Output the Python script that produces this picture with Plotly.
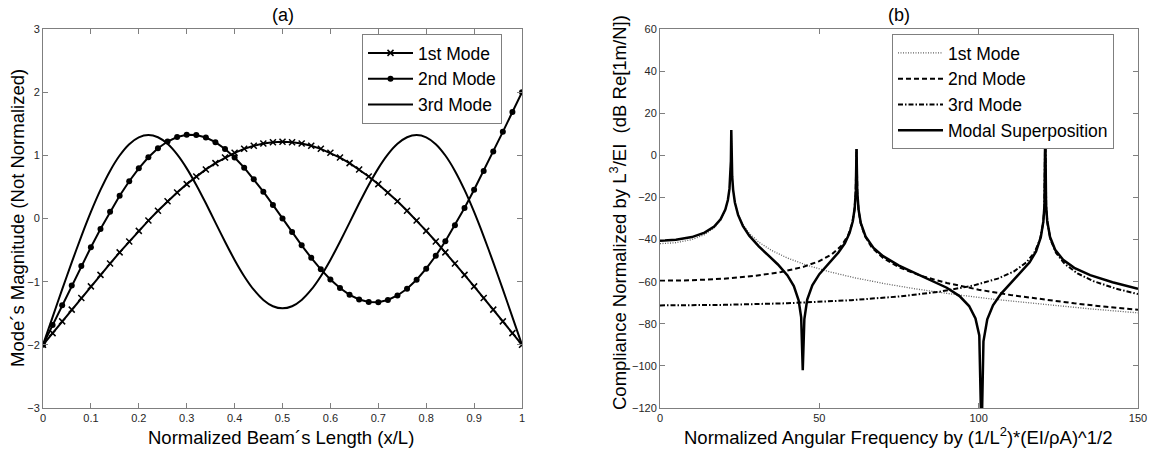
import plotly.graph_objects as go

# ---------------- (a) mode shapes ----------------
x_pos = [0.00, 0.02, 0.04, 0.06, 0.08, 0.10, 0.12, 0.14, 0.16, 0.18, 0.20, 0.22, 0.24, 0.26, 0.28,
         0.30, 0.32, 0.34, 0.36, 0.38, 0.40, 0.42, 0.44, 0.46, 0.48, 0.50, 0.52, 0.54, 0.56, 0.58,
         0.60, 0.62, 0.64, 0.66, 0.68, 0.70, 0.72, 0.74, 0.76, 0.78, 0.80, 0.82, 0.84, 0.86, 0.88,
         0.90, 0.92, 0.94, 0.96, 0.98, 1.00]

mode1_shape = [-2.0, -1.8142, -1.6284, -1.4429, -1.2580, -1.0744, -0.8924, -0.7127, -0.5362, -0.3635,
               -0.1955, -0.0330, 0.1231, 0.2718, 0.4124, 0.5440, 0.6658, 0.7771, 0.8770, 0.9650,
               1.0405, 1.1030, 1.1521, 1.1873, 1.2086, 1.2157, 1.2086, 1.1873, 1.1521, 1.1030,
               1.0405, 0.9650, 0.8770, 0.7771, 0.6658, 0.5440, 0.4124, 0.2718, 0.1231, -0.0330,
               -0.1955, -0.3635, -0.5362, -0.7127, -0.8924, -1.0744, -1.2580, -1.4429, -1.6284,
               -1.8142, -2.0]

mode2_shape = [-2.0, -1.6857, -1.3720, -1.0606, -0.7539, -0.4549, -0.1671, 0.1055, 0.3592, 0.5901,
               0.7945, 0.9692, 1.1113, 1.2188, 1.2899, 1.3240, 1.3211, 1.2818, 1.2079, 1.1016,
               0.9661, 0.8051, 0.6230, 0.4246, 0.2151, 0.0, -0.2151, -0.4246, -0.6230, -0.8051,
               -0.9661, -1.1016, -1.2079, -1.2818, -1.3211, -1.3240, -1.2899, -1.2188, -1.1113,
               -0.9692, -0.7945, -0.5901, -0.3592, -0.1055, 0.1671, 0.4549, 0.7539, 1.0606, 1.3720,
               1.6857, 2.0]

mode3_shape = [-2.0, -1.5604, -1.1232, -0.6943, -0.2819, 0.1039, 0.4525, 0.7535, 0.9974, 1.1766,
               1.2857, 1.3222, 1.2864, 1.1817, 1.0144, 0.7939, 0.5314, 0.2405, -0.0644, -0.3681,
               -0.6557, -0.9130, -1.1275, -1.2886, -1.3885, -1.4224, -1.3885, -1.2886, -1.1275,
               -0.9130, -0.6557, -0.3681, -0.0644, 0.2405, 0.5314, 0.7939, 1.0144, 1.1817, 1.2864,
               1.3222, 1.2857, 1.1766, 0.9974, 0.7535, 0.4525, 0.1039, -0.2819, -0.6943, -1.1232,
               -1.5604, -2.0]

xa_ticks = [0, 0.1, 0.2, 0.3, 0.4, 0.5, 0.6, 0.7, 0.8, 0.9, 1]
xa_labels = ["0", "0.1", "0.2", "0.3", "0.4", "0.5", "0.6", "0.7", "0.8", "0.9", "1"]
ya_ticks = [-3, -2, -1, 0, 1, 2, 3]

# ---------------- (b) compliance FRF ----------------
w_m1 = [0, 5, 10, 14, 17, 19, 20.5, 21.3, 21.8, 22.1, 22.25, 22.37, 22.5, 22.65, 22.95, 23.5,
        24.5, 26, 28, 31, 35, 40, 46, 53, 61, 70, 80, 92, 105, 120, 135, 150]
db_m1 = [-41.95, -41.50, -40.01, -37.63, -34.47, -30.85, -26.06, -21.38, -16.03, -9.65, -2.77,
         12.0, -3.06, -9.87, -16.30, -22.23, -27.93, -32.84, -37.01, -41.22, -45.16, -48.78,
         -52.13, -55.23, -58.12, -60.83, -63.38, -65.98, -68.40, -70.82, -72.93, -74.81]

w_m2 = [0, 10, 20, 30, 38, 45, 50, 54, 57, 59, 60.3, 61, 61.4, 61.67, 61.95, 62.35, 63, 64.3,
        66.5, 70, 75, 82, 90, 100, 110, 120, 130, 140, 150]
db_m2 = [-59.56, -59.33, -58.60, -57.22, -55.42, -52.96, -50.26, -46.92, -42.84, -38.13, -32.44,
         -26.29, -18.48, 3.0, -18.66, -26.44, -32.33, -38.35, -43.79, -48.76, -53.17, -57.27,
         -60.62, -63.80, -66.34, -68.46, -70.30, -71.93, -73.39]

w_m3 = [0, 20, 40, 60, 75, 88, 98, 106, 111, 115, 117.5, 119.2, 120.2, 120.6, 120.9, 121.2,
        121.6, 122.6, 124.3, 127, 131, 136, 143, 150]
db_m3 = [-71.26, -71.02, -70.25, -68.80, -67.04, -64.70, -61.96, -58.54, -55.18, -50.84, -46.14,
         -40.19, -32.55, -25.26, 14.0, -25.08, -32.51, -40.28, -46.37, -51.55, -56.07, -59.73,
         -63.27, -65.89]

w_sum = [0, 5, 10, 14, 17, 19, 20.5, 21.3, 21.8, 22.1, 22.25, 22.37, 22.5, 22.65, 22.95, 23.5,
         24.5, 26, 28, 31, 34, 37, 40, 42, 43.5, 44.3, 44.8, 45.3, 46.2, 47.8, 50, 53, 56, 58,
         59.5, 60.5, 61.1, 61.45, 61.67, 61.9, 62.3, 63, 64.5, 67, 70, 75, 80, 85, 90, 94, 97,
         99, 100.2, 100.9, 101.5, 102.7, 104.5, 107, 110, 113, 116, 118, 119.5, 120.3, 120.65,
         120.9, 121.15, 121.5, 122.4, 124, 126.5, 130, 135, 142, 150]
db_sum = [-40.52, -40.14, -38.83, -36.70, -33.80, -30.40, -25.79, -21.22, -15.94, -9.61, -2.75,
          12.0, -3.08, -9.91, -16.40, -22.41, -28.29, -33.50, -38.13, -43.24, -47.55, -51.84,
          -57.01, -62.06, -68.83, -76.95, -102.0, -77.75, -68.53, -61.70, -56.45, -51.26, -46.14,
          -41.76, -36.86, -31.33, -25.02, -16.77, 3.0, -16.88, -25.66, -32.10, -38.55, -43.97,
          -47.89, -52.34, -55.85, -59.17, -62.88, -66.85, -71.58, -77.47, -85.50, -135.0, -88.34,
          -77.89, -71.25, -65.78, -60.86, -56.26, -50.84, -45.64, -38.91, -31.38, -23.76, 14.0,
          -23.41, -31.01, -38.82, -44.84, -49.61, -53.44, -56.91, -60.29, -63.43]

xb_ticks = [0, 50, 100, 150]
yb_ticks = [-120, -100, -80, -60, -40, -20, 0, 20, 40, 60]

FONT = "Liberation Sans, Arial, sans-serif"
AXC = "#7f7f7f"
TICKC = "#262626"

fig = go.Figure()

fig.add_trace(go.Scatter(x=x_pos, y=mode1_shape, name="1st Mode", mode="lines+markers",
                         line=dict(color="black", width=2),
                         marker=dict(symbol="x-thin", size=6, color="black",
                                     line=dict(width=1.5, color="black")),
                         xaxis="x", yaxis="y", legend="legend"))
fig.add_trace(go.Scatter(x=x_pos, y=mode2_shape, name="2nd Mode", mode="lines+markers",
                         line=dict(color="black", width=2),
                         marker=dict(symbol="circle", size=6, color="black"),
                         xaxis="x", yaxis="y", legend="legend"))
fig.add_trace(go.Scatter(x=x_pos, y=mode3_shape, name="3rd Mode", mode="lines",
                         line=dict(color="black", width=2, shape="spline", smoothing=0.8),
                         xaxis="x", yaxis="y", legend="legend"))

fig.add_trace(go.Scatter(x=w_m1, y=db_m1, name="1st Mode", mode="lines",
                         line=dict(color="#606060", width=1.3, dash="1px,1.5px"),
                         xaxis="x2", yaxis="y2", legend="legend2"))
fig.add_trace(go.Scatter(x=w_m2, y=db_m2, name="2nd Mode", mode="lines",
                         line=dict(color="black", width=2, dash="5px,3px"),
                         xaxis="x2", yaxis="y2", legend="legend2"))
fig.add_trace(go.Scatter(x=w_m3, y=db_m3, name="3rd Mode", mode="lines",
                         line=dict(color="black", width=2, dash="5px,2px,1.5px,2px"),
                         xaxis="x2", yaxis="y2", legend="legend2"))
fig.add_trace(go.Scatter(x=w_sum, y=db_sum, name="Modal Superposition", mode="lines",
                         line=dict(color="black", width=2.5),
                         xaxis="x2", yaxis="y2", legend="legend2"))

common_axis = dict(showline=True, linecolor=AXC, linewidth=1, mirror="ticks",
                   ticks="inside", ticklen=5, tickcolor=AXC, tickwidth=1,
                   showgrid=False, zeroline=False, automargin=False,
                   tickfont=dict(family=FONT, size=11, color=TICKC))

ydom = [1 - 408 / 459, 1 - 29 / 459]
TITLE_FONT = dict(family=FONT, size=18.5, color="black")
LEG_FONT = dict(family=FONT, size=17.5, color="black")

fig.update_layout(
    width=1154, height=459, autosize=False,
    margin=dict(l=0, r=0, t=0, b=0, pad=0),
    paper_bgcolor="white", plot_bgcolor="white",
    font=dict(family=FONT, color="black"),
    xaxis=dict(domain=[43 / 1154, 522 / 1154], range=[0, 1], tickvals=xa_ticks,
               ticktext=xa_labels, anchor="y", **common_axis),
    yaxis=dict(domain=ydom, range=[-3, 3], tickvals=ya_ticks, anchor="x", **common_axis),
    xaxis2=dict(domain=[660 / 1154, 1138 / 1154], range=[0, 150], tickvals=xb_ticks,
                anchor="y2", **common_axis),
    yaxis2=dict(domain=ydom, range=[-120, 60], tickvals=yb_ticks, anchor="x2", **common_axis),
    legend=dict(x=362 / 1154, y=1 - 34 / 459, xanchor="left", yanchor="top",
                bgcolor="white", bordercolor=AXC, borderwidth=1,
                font=LEG_FONT, tracegroupgap=0, itemwidth=45),
    legend2=dict(x=892 / 1154, y=1 - 34 / 459, xanchor="left", yanchor="top",
                 bgcolor="white", bordercolor=AXC, borderwidth=1,
                 font=LEG_FONT, tracegroupgap=0, itemwidth=45),
    annotations=[
        dict(text="(a)", x=282.5 / 1154, y=1 - 15 / 459, xref="paper", yref="paper",
             xanchor="center", yanchor="middle", showarrow=False,
             font=dict(family=FONT, size=18, color="black")),
        dict(text="(b)", x=899 / 1154, y=1 - 15 / 459, xref="paper", yref="paper",
             xanchor="center", yanchor="middle", showarrow=False,
             font=dict(family=FONT, size=18, color="black")),
        dict(text="Normalized Beam´s Length (x/L)", x=281 / 1154, y=1 - 437 / 459,
             xref="paper", yref="paper", xanchor="center", yanchor="middle",
             showarrow=False, font=TITLE_FONT),
        dict(text="Mode´s Magnitude (Not Normalized)", x=18 / 1154, y=1 - 218 / 459,
             xref="paper", yref="paper", xanchor="center", yanchor="middle",
             showarrow=False, textangle=-90, font=TITLE_FONT),
        dict(text="Normalized Angular Frequency by (1/L<sup>2</sup>)*(EI/ρA)^1/2",
             x=898 / 1154, y=1 - 436 / 459, xref="paper", yref="paper",
             xanchor="center", yanchor="middle", showarrow=False, font=TITLE_FONT),
        dict(text="Compliance Normalized by L<sup>3</sup>/EI  (dB Re[1m/N])",
             x=618 / 1154, y=1 - 213 / 459, xref="paper", yref="paper",
             xanchor="center", yanchor="middle", showarrow=False,
             textangle=-90, font=TITLE_FONT),
    ],
)

fig.write_html("out.html", config={"displayModeBar": False},
               post_script="document.body.style.margin='0';"
                           "document.documentElement.style.overflow='hidden';")
